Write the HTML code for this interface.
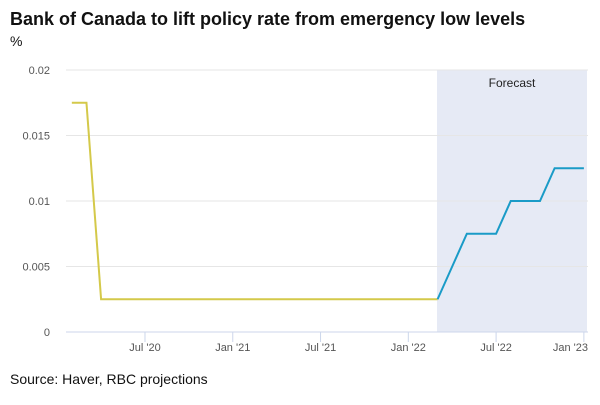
<!DOCTYPE html>
<html><head><meta charset="utf-8"><style>
body{margin:0;background:#fff;font-family:"Liberation Sans",sans-serif}
svg text{font-family:"Liberation Sans",sans-serif}
</style></head><body>
<svg width="600" height="400">
<text x="10" y="25" font-size="18" font-weight="bold" fill="#111">Bank of Canada to lift policy rate from emergency low levels</text>
<text x="10" y="46" font-size="14" fill="#111">%</text>
<rect x="437" y="70" width="150" height="262" fill="#e6eaf5"/>
<text x="512" y="87" font-size="12" fill="#222" text-anchor="middle">Forecast</text>
<g id="grid"></g><g id="xaxis"></g><g id="series"></g>
<text x="10" y="384" font-size="14" fill="#111">Source: Haver, RBC projections</text>
</svg>
<script>
const yTicks=[0,0.005,0.01,0.015,0.02];
const yTickLabels=["0","0.005","0.01","0.015","0.02"];
const xTickMonths=[6,12,18,24,30,36];
const xTickLabels=["Jul '20","Jan '21","Jul '21","Jan '22","Jul '22","Jan '23"];
const actualMonths=[1,2,3,4,5,6,7,8,9,10,11,12,13,14,15,16,17,18,19,20,21,22,23,24,25,26];
const actualValues=[0.0175,0.0175,0.0025,0.0025,0.0025,0.0025,0.0025,0.0025,0.0025,0.0025,0.0025,0.0025,0.0025,0.0025,0.0025,0.0025,0.0025,0.0025,0.0025,0.0025,0.0025,0.0025,0.0025,0.0025,0.0025,0.0025];
const forecastMonths=[26,27,28,29,30,31,32,33,34,35,36];
const forecastValues=[0.0025,0.005,0.0075,0.0075,0.0075,0.01,0.01,0.01,0.0125,0.0125,0.0125];
const NS="http://www.w3.org/2000/svg";
const x=m=>57.2+14.63*m;
const y=v=>332-v/0.02*262;
function mk(t,a,p){const e=document.createElementNS(NS,t);for(const k in a)e.setAttribute(k,a[k]);p.appendChild(e);return e;}
const g=document.getElementById('grid');
yTicks.forEach((v,i)=>{
 if(v>0){const l=mk('line',{x1:66,x2:588,y1:y(v),y2:y(v),stroke:'#e6e6e6'},g);
 
 }
 const t=mk('text',{x:50,y:y(v)+4,'font-size':11,fill:'#555','text-anchor':'end'},g);t.textContent=yTickLabels[i];
 
 
});
const xa=document.getElementById('xaxis');
const ax=mk('line',{x1:66,x2:588,y1:332,y2:332,stroke:'#ccd6eb'},xa);


xTickMonths.forEach((m,i)=>{
 const tk=mk('line',{x1:x(m),x2:x(m),y1:332,y2:342,stroke:'#ccd6eb'},xa);
 
 
 const last=i===xTickMonths.length-1;
 const t=mk('text',{x:last?588:x(m),y:351,'font-size':11,fill:'#555','text-anchor':last?'end':'middle'},xa);t.textContent=xTickLabels[i];
 
 
});
const s=document.getElementById('series');
const p1=mk('polyline',{points:actualMonths.map((m,i)=>x(m)+','+y(actualValues[i])).join(' '),fill:'none',stroke:'#d4c94a','stroke-width':2},s);


const p2=mk('polyline',{points:forecastMonths.map((m,i)=>x(m)+','+y(forecastValues[i])).join(' '),fill:'none',stroke:'#1a9bc7','stroke-width':2},s);


</script>
</body></html>
